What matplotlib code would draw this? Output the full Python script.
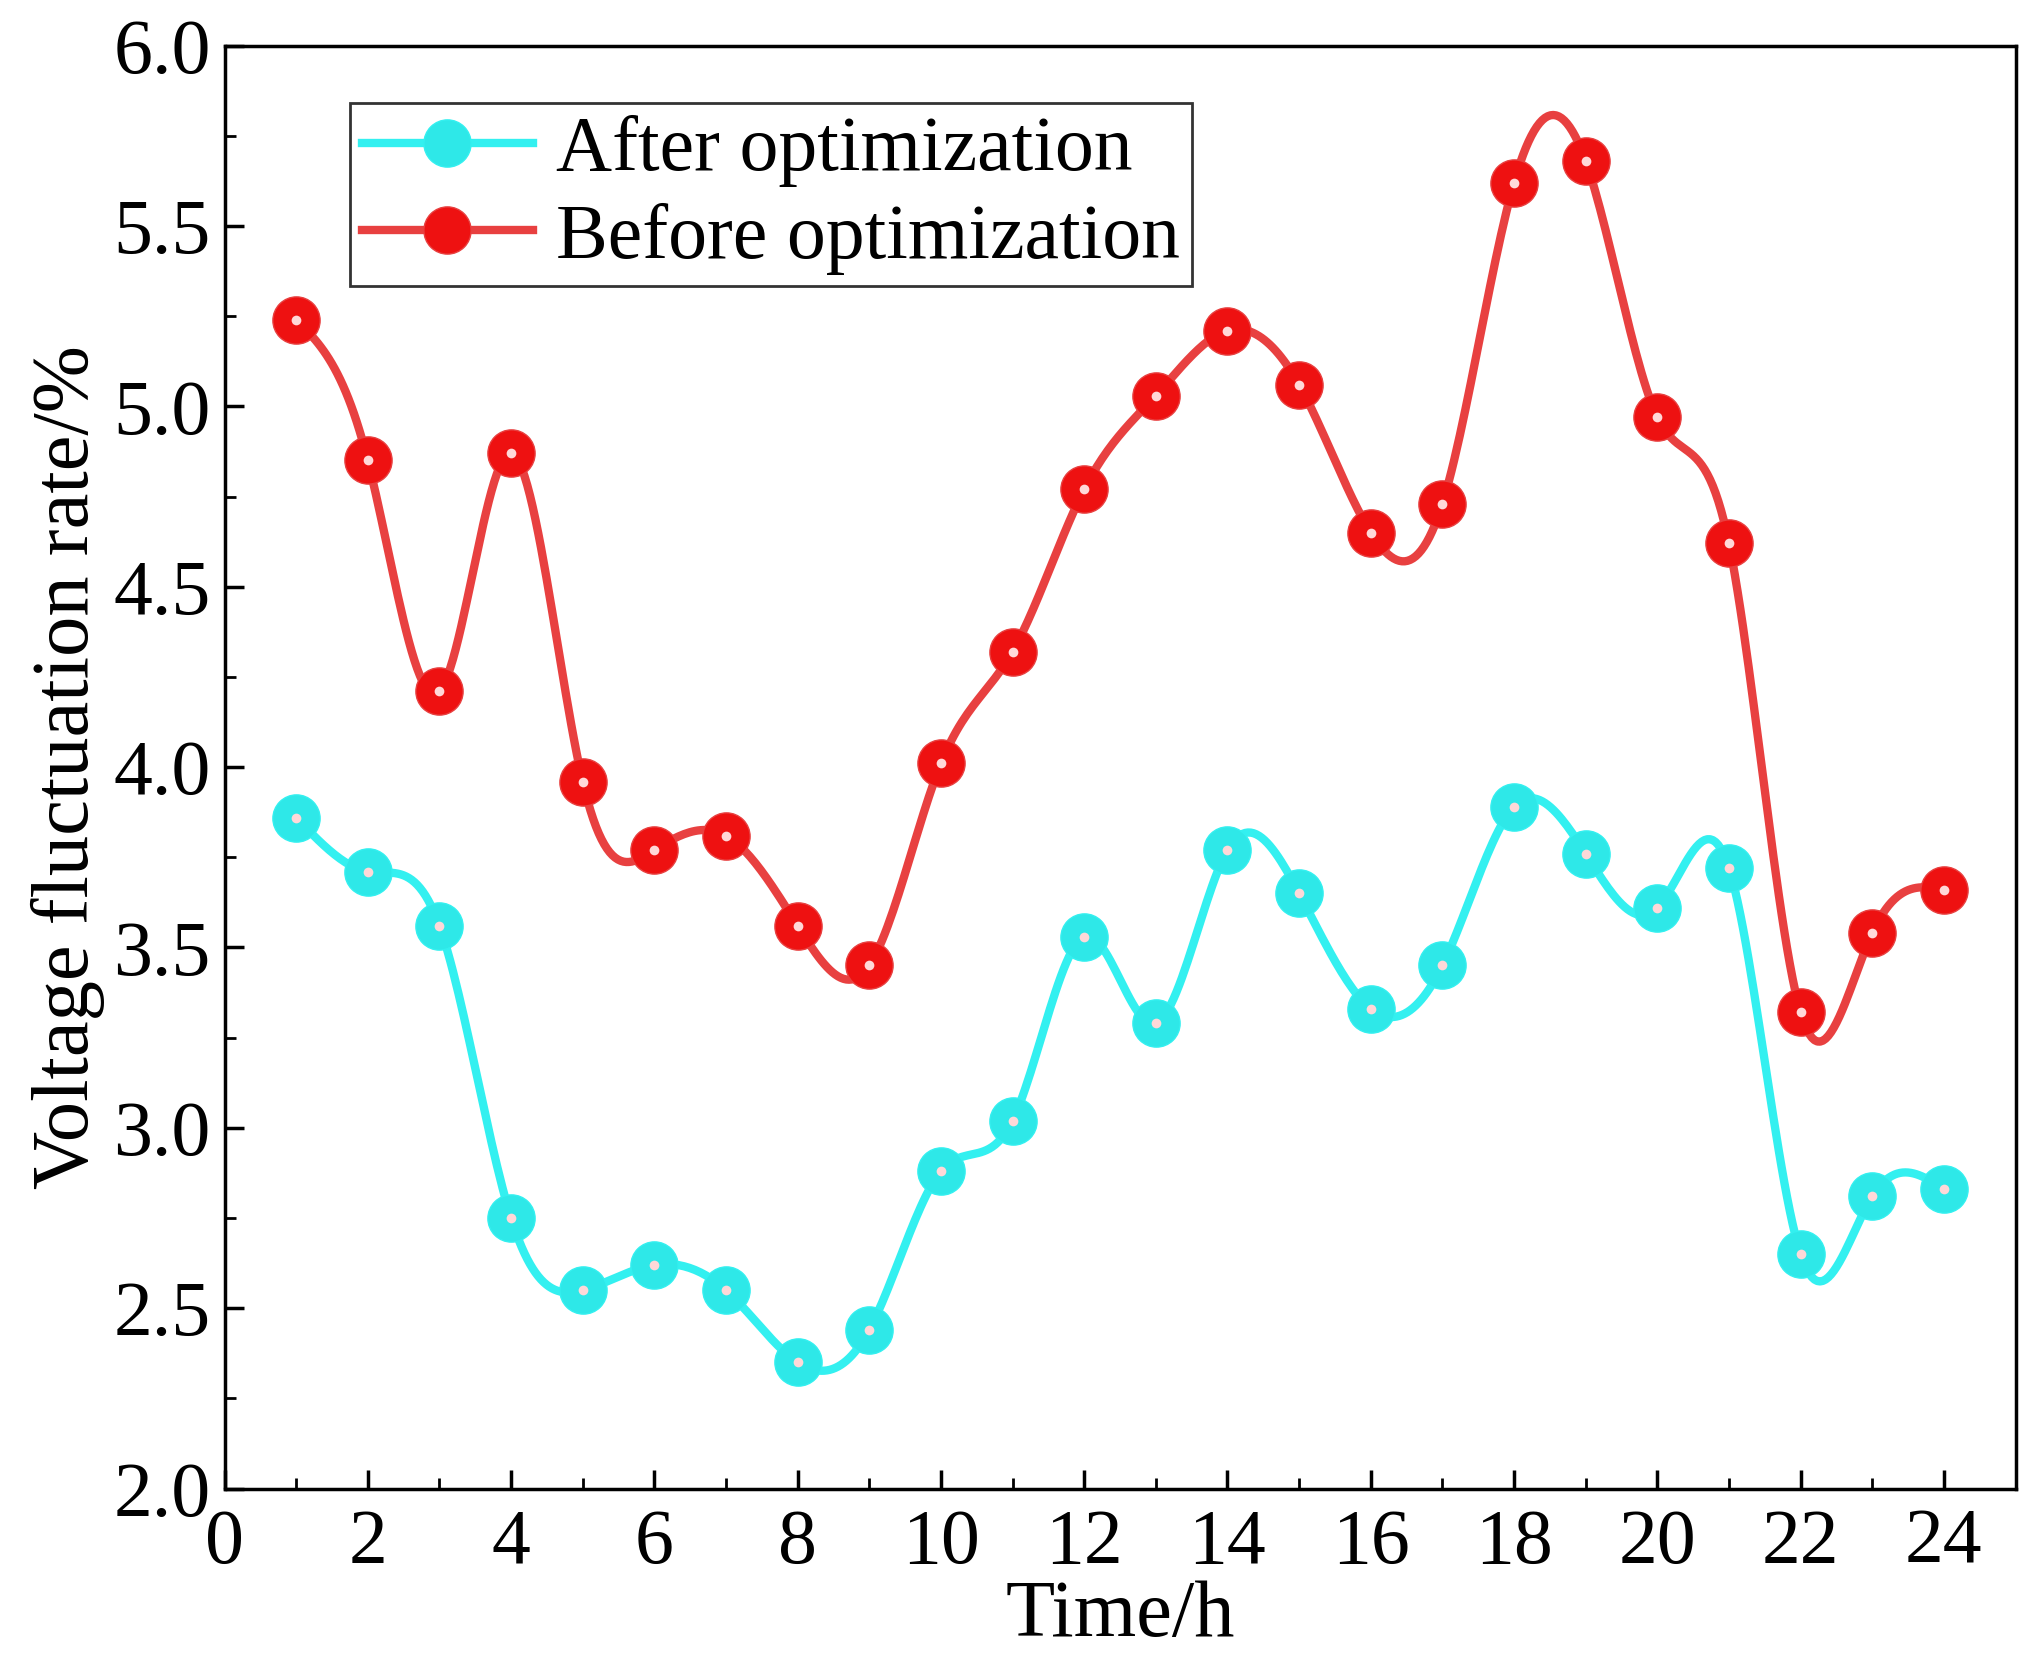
import numpy as np
import matplotlib.pyplot as plt
from matplotlib.ticker import MultipleLocator

hours = np.arange(1, 25)
after = [3.86, 3.71, 3.56, 2.75, 2.55, 2.62, 2.55, 2.35, 2.44, 2.88, 3.02, 3.53,
         3.29, 3.77, 3.65, 3.33, 3.45, 3.89, 3.76, 3.61, 3.72, 2.65, 2.81, 2.83]
before = [5.24, 4.85, 4.21, 4.87, 3.96, 3.77, 3.81, 3.56, 3.45, 4.01, 4.32, 4.77,
          5.03, 5.21, 5.06, 4.65, 4.73, 5.62, 5.68, 4.97, 4.62, 3.32, 3.54, 3.66]


def spline(x, y, n=600):
    # natural cubic spline
    x = np.asarray(x, float); y = np.asarray(y, float)
    k = len(x); h = np.diff(x)
    A = np.zeros((k, k)); b = np.zeros(k)
    A[0, 0] = A[-1, -1] = 1
    for i in range(1, k - 1):
        A[i, i - 1] = h[i - 1]; A[i, i] = 2 * (h[i - 1] + h[i]); A[i, i + 1] = h[i]
        b[i] = 3 * ((y[i + 1] - y[i]) / h[i] - (y[i] - y[i - 1]) / h[i - 1])
    c = np.linalg.solve(A, b)
    xs = np.linspace(x[0], x[-1], n)
    idx = np.clip(np.searchsorted(x, xs) - 1, 0, k - 2)
    dx = xs - x[idx]
    bb = (y[1:] - y[:-1]) / h - h * (2 * c[:-1] + c[1:]) / 3
    d = (c[1:] - c[:-1]) / (3 * h)
    ys = y[idx] + bb[idx] * dx + c[idx] * dx ** 2 + d[idx] * dx ** 3
    return xs, ys


plt.rcParams['font.family'] = ['Liberation Serif', 'DejaVu Serif']
plt.rcParams['font.size'] = 56

fig = plt.figure(figsize=(20.35, 16.67), dpi=100)
ax = fig.add_axes([173 / 1568, 1 - 1143 / 1280, 1380 / 1568, 1108 / 1280])

for vals, col, mcol, lab in [(after, '#33f0f0', '#2ee8e8', 'After optimization'),
                             (before, '#e84040', '#ee1111', 'Before optimization')]:
    xs, ys = spline(hours, vals)
    ax.plot(xs, ys, color=col, lw=6, zorder=2)
    ax.plot(hours, vals, 'o', color=mcol, ms=34, mec=col, mew=1, zorder=3)
    ax.plot(hours, vals, 'o', color='#ffd8d8', ms=7, mew=0, zorder=4)
    ax.plot([], [], '-o', color=col, mfc=mcol, ms=34, lw=6, label=lab)

ax.set_xlim(0, 25)
ax.set_ylim(2.0, 6.0)
ax.xaxis.set_major_locator(MultipleLocator(2))
ax.xaxis.set_minor_locator(MultipleLocator(1))
ax.yaxis.set_major_locator(MultipleLocator(0.5))
ax.yaxis.set_minor_locator(MultipleLocator(0.25))
ax.yaxis.set_major_formatter(plt.FormatStrFormatter('%.1f'))
ax.tick_params(which='major', direction='in', length=14, width=2.5, labelsize=56)
ax.tick_params(axis='x', which='major', pad=14)
ax.tick_params(axis='y', which='major', pad=10)
ax.tick_params(which='minor', direction='in', length=8, width=2)
for s in ax.spines.values():
    s.set_linewidth(2.5)
ax.set_xlabel('Time/h', fontsize=58, labelpad=0)
ax.set_ylabel('Voltage fluctuation rate/%', fontsize=58, labelpad=6)
leg = ax.legend(loc='upper left', bbox_to_anchor=(0.07, 0.96), fancybox=False,
                edgecolor='black', fontsize=56, handlelength=2.2, borderpad=0.15,
                labelspacing=0.2, handletextpad=0.3, borderaxespad=0)
leg.get_frame().set_linewidth(2)

fig.savefig('out.png', dpi=100)
